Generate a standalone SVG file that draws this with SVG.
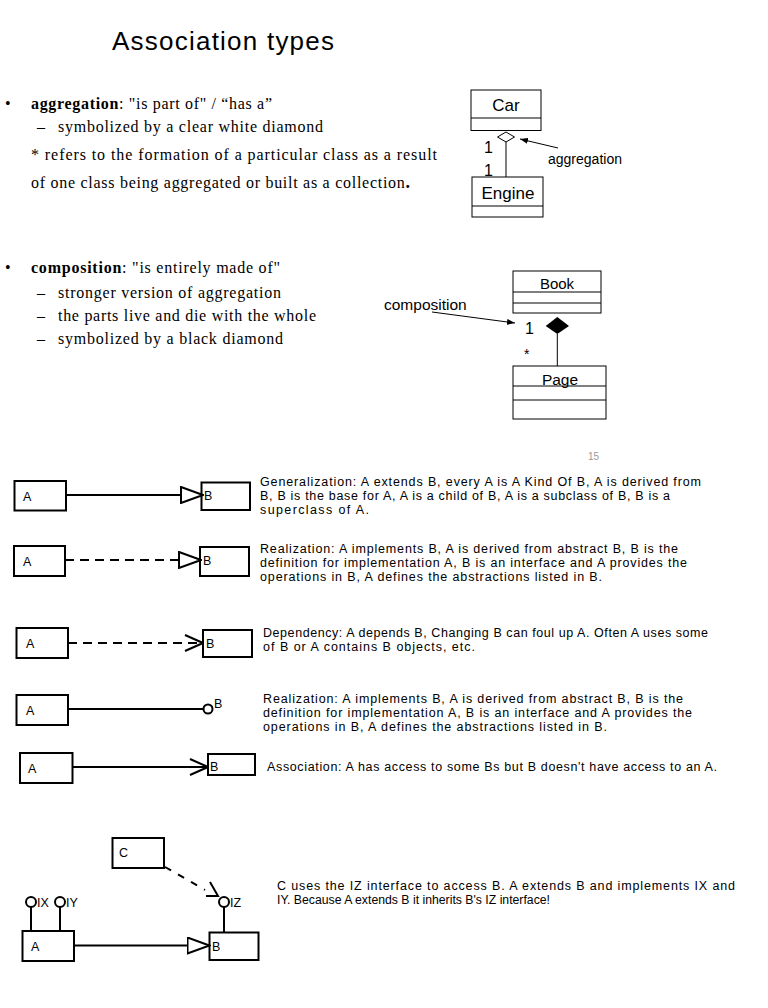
<svg xmlns="http://www.w3.org/2000/svg" width="768" height="1008" viewBox="0 0 768 1008">
<style>
.serif{font-family:"Liberation Serif","Times New Roman",serif;font-size:16px;fill:#000}
.uml{font-family:"Liberation Sans",Arial,sans-serif;fill:#000}
.hand{font-family:"Liberation Sans",Arial,sans-serif;font-size:12.5px;fill:#000}
.b1{fill:#fff;stroke:#000;stroke-width:1}
.l1{fill:none;stroke:#000;stroke-width:1}
.b2{fill:#fff;stroke:#000;stroke-width:2}
.l2{fill:none;stroke:#000;stroke-width:2}
.dash{stroke-dasharray:9 6}
</style>
<defs>
<marker id="tri" viewBox="0 0 24 18" refX="23" refY="9" markerWidth="24" markerHeight="18" markerUnits="userSpaceOnUse" orient="auto">
<path d="M1,1 L23,9 L1,17 Z" fill="#fff" stroke="#000" stroke-width="2"/>
</marker>
<marker id="open" viewBox="0 0 20 18" refX="19" refY="9" markerWidth="20" markerHeight="18" markerUnits="userSpaceOnUse" orient="auto">
<path d="M1,1 L19,9 L1,17" fill="none" stroke="#000" stroke-width="2"/>
</marker>
<marker id="small" viewBox="0 0 8 6" refX="8" refY="3" markerWidth="8" markerHeight="6" markerUnits="userSpaceOnUse" orient="auto">
<path d="M0,0 L8,3 L0,6 Z" fill="#000"/>
</marker>
</defs>
<rect width="768" height="1008" fill="#fff"/>

<text x="112" y="50" class="uml" font-size="26" textLength="222">Association types</text>

<g id="aggregation-text" class="serif">
<text x="5" y="109">•</text>
<text x="31" y="109" textLength="241"><tspan font-weight="bold">aggregation</tspan>: "is part of" / “has a”</text>
<text x="37" y="132">–</text>
<text x="58" y="132" textLength="265">symbolized by a clear white diamond</text>
<text x="31" y="160" textLength="406">* refers to the formation of a particular class as a result</text>
<text x="31" y="188" textLength="379">of one class being aggregated or built as a collection<tspan font-weight="bold" font-size="18">.</tspan></text>
</g>

<g id="composition-text" class="serif">
<text x="5" y="273">•</text>
<text x="31" y="273" textLength="249"><tspan font-weight="bold">composition</tspan>: "is entirely made of"</text>
<text x="37" y="298">–</text>
<text x="58" y="298" textLength="223">stronger version of aggregation</text>
<text x="37" y="321">–</text>
<text x="58" y="321" textLength="258">the parts live and die with the whole</text>
<text x="37" y="344">–</text>
<text x="58" y="344" textLength="225">symbolized by a black diamond</text>
</g>

<g id="car">
<rect x="471" y="90" width="70" height="40.5" class="b1"/>
<line x1="471" y1="118" x2="541" y2="118" class="l1"/>
<text x="506" y="111" class="uml" font-size="17" text-anchor="middle">Car</text>
</g>
<g id="engine">
<rect x="472" y="177" width="71" height="40" class="b1"/>
<line x1="472" y1="206" x2="543" y2="206" class="l1"/>
<text x="508" y="199" class="uml" font-size="17" text-anchor="middle">Engine</text>
</g>
<g id="book">
<rect x="513" y="271" width="88" height="42" class="b1"/>
<line x1="513" y1="292" x2="601" y2="292" class="l1"/>
<line x1="513" y1="303" x2="601" y2="303" class="l1"/>
<text x="557" y="289" class="uml" font-size="15" text-anchor="middle">Book</text>
</g>
<g id="page">
<rect x="513" y="366" width="93" height="53" class="b1"/>
<line x1="513" y1="386" x2="606" y2="386" class="l1"/>
<line x1="513" y1="400" x2="606" y2="400" class="l1"/>
<text x="560" y="385" class="uml" font-size="15.5" text-anchor="middle">Page</text>
</g>

<g id="uml-connectors">
<line x1="506" y1="142" x2="506" y2="177" class="l1"/>
<path d="M506,132 L514.5,137 L506,142 L497.5,137 Z" fill="#fff" stroke="#000" stroke-width="1"/>
<line x1="558" y1="148" x2="520" y2="139" class="l1" marker-end="url(#small)"/>
<line x1="557.3" y1="334" x2="557.3" y2="366" class="l1"/>
<path d="M557.3,317 L569,326 L557.3,334 L545.7,326 Z" fill="#000"/>
<line x1="432" y1="312" x2="515" y2="323" class="l1" marker-end="url(#small)"/>
</g>
<g id="uml-labels" class="uml">
<text x="484" y="153" font-size="16">1</text>
<text x="484" y="176" font-size="16">1</text>
<text x="548" y="164" font-size="14">aggregation</text>
<text x="384" y="310" font-size="15.5">composition</text>
<text x="525" y="334" font-size="16">1</text>
<text x="524" y="359" font-size="14">*</text>
</g>

<text x="588" y="460" font-family="Liberation Sans, Arial, sans-serif" font-size="10" fill="#999">15</text>

<g id="gen-a"><rect x="14.5" y="481" width="51.5" height="29.5" class="b2"/><text x="23" y="501" class="hand">A</text></g>
<g id="gen-b"><rect x="201.5" y="482.5" width="48.5" height="27.5" class="b2"/><text x="204" y="500" class="hand">B</text></g>
<g id="real-a"><rect x="14" y="546" width="51" height="30" class="b2"/><text x="23" y="566" class="hand">A</text></g>
<g id="real-b"><rect x="200" y="547" width="49" height="29" class="b2"/><text x="203" y="565" class="hand">B</text></g>
<g id="dep-a"><rect x="16.5" y="628" width="51.5" height="30" class="b2"/><text x="26" y="648" class="hand">A</text></g>
<g id="dep-b"><rect x="203" y="630" width="49" height="27" class="b2"/><text x="206" y="648" class="hand">B</text></g>
<g id="real2-a"><rect x="16.5" y="695" width="51.5" height="30" class="b2"/><text x="26" y="715" class="hand">A</text></g>
<g id="real2-b"><circle cx="208" cy="709" r="4.5" class="b2"/><text x="214" y="708" class="hand">B</text></g>
<g id="assoc-a"><rect x="20" y="753" width="52.5" height="30" class="b2"/><text x="28" y="773" class="hand">A</text></g>
<g id="assoc-b"><rect x="208" y="754" width="47" height="21" class="b2"/><text x="210" y="771" class="hand">B</text></g>
<g id="ex-c"><rect x="112.5" y="838" width="51.5" height="30" class="b2"/><text x="119" y="857" class="hand">C</text></g>
<g id="ex-a"><rect x="22.5" y="931" width="51.5" height="30" class="b2"/><text x="31" y="951" class="hand">A</text></g>
<g id="ex-b"><rect x="209.5" y="932.5" width="49" height="27.5" class="b2"/><text x="212" y="951" class="hand">B</text></g>
<g id="ex-ix"><circle cx="31" cy="902" r="5" class="b2"/><text x="37" y="907" class="hand">IX</text></g>
<g id="ex-iy"><circle cx="60" cy="902" r="5" class="b2"/><text x="66" y="907" class="hand">IY</text></g>
<g id="ex-iz"><circle cx="224" cy="902" r="5" class="b2"/><text x="230" y="907" class="hand">IZ</text></g>

<g id="connectors">
<line x1="66" y1="495" x2="203" y2="495" class="l2" marker-end="url(#tri)"/>
<line x1="65" y1="560" x2="201" y2="560" class="l2 dash" marker-end="url(#tri)"/>
<line x1="68" y1="643" x2="203" y2="643" class="l2 dash" marker-end="url(#open)"/>
<line x1="68" y1="709" x2="203.5" y2="709" class="l2"/>
<line x1="72.5" y1="767" x2="208" y2="767" class="l2" marker-end="url(#open)"/>
<line x1="165" y1="867" x2="205" y2="890" class="l2" stroke-dasharray="7 8"/>
<polyline points="210,882 218,896 206,896" class="l2"/>
<line x1="224" y1="907" x2="224" y2="932" class="l2"/>
<line x1="31" y1="907" x2="31" y2="931" class="l2"/>
<line x1="60" y1="907" x2="60" y2="931" class="l2"/>
<line x1="74" y1="945.5" x2="209.5" y2="945.5" class="l2" marker-end="url(#tri)"/>
</g>

<g id="descriptions" class="hand">
<text x="260" y="486" textLength="441">Generalization:  A extends B, every A is A Kind Of B, A is derived from</text>
<text x="260" y="500" textLength="410">B, B is the base for A, A is a child of B, A is a subclass of B, B is a</text>
<text x="260" y="514" textLength="109">superclass of A.</text>
<text x="260" y="553" textLength="418">Realization:  A implements B, A is derived from abstract B, B is the</text>
<text x="260" y="567" textLength="427">definition for implementation A, B is an interface and A provides the</text>
<text x="260" y="581" textLength="342">operations in  B, A defines the abstractions listed in B.</text>
<text x="263" y="637" textLength="445">Dependency:  A depends B,  Changing B can foul up A. Often A uses some</text>
<text x="263" y="651" textLength="212">of B or A contains B objects, etc.</text>
<text x="263" y="703" textLength="420">Realization:  A implements B, A is derived from abstract B, B is the</text>
<text x="263" y="717" textLength="429">definition for implementation A, B is an interface and A provides the</text>
<text x="263" y="731" textLength="344">operations in  B, A defines the abstractions listed in B.</text>
<text x="267" y="771" textLength="450">Association:  A has access to some Bs but B doesn't have access to an A.</text>
<text x="277" y="890" textLength="458">C uses the IZ interface to access B. A extends B and implements IX and</text>
<text x="277" y="904" textLength="273" lengthAdjust="spacingAndGlyphs">IY.  Because A extends B it inherits B's IZ interface!</text>
</g>
</svg>
